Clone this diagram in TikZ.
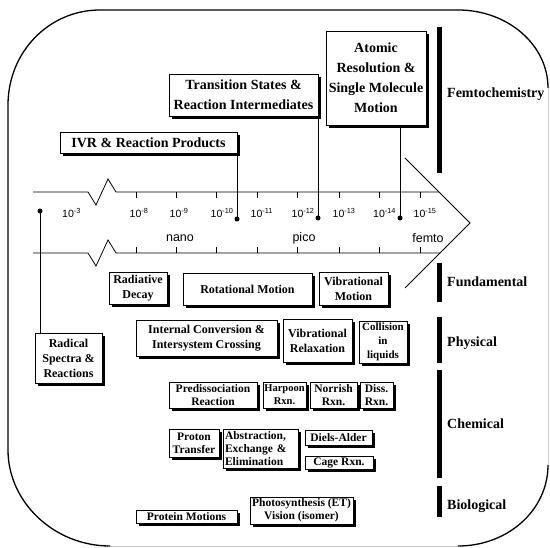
\documentclass[tikz,border=0pt]{standalone}
\usepackage{fontspec}
\setmainfont{Liberation Serif}
\newfontfamily\axisfont{Liberation Sans}
\usetikzlibrary{shadows}
\begin{document}
\begin{tikzpicture}[x=1pt,y=-1pt,
  bx/.style={draw, fill=white, line width=0.8pt, align=center, inner sep=1pt,
    drop shadow={shadow xshift=3pt,shadow yshift=-3pt,fill=black,opacity=1}},
  bigbox/.style={bx, font=\fontsize{14}{20}\selectfont\bfseries},
  midbox/.style={bx, font=\fontsize{12}{15}\selectfont\bfseries},
  smallbox/.style={bx, font=\fontsize{11.5}{13}\selectfont\bfseries},
  bar/.style={line width=5pt},
  cat/.style={anchor=west, inner sep=0pt, font=\fontsize{14}{16}\selectfont\bfseries},
  dot/.style={circle, fill=black, inner sep=0pt, minimum size=5pt},
  tk/.style={anchor=west, inner sep=0pt, font=\axisfont\fontsize{10.5}{12}\selectfont},
  scl/.style={inner sep=0pt, font=\axisfont\fontsize{12.5}{14}\selectfont},
  axis/.style={line width=0.8pt},
  border/.style={line width=1.3pt}
]
\useasboundingbox (0,0) rectangle (550,548);

% outer border
\draw[border] (8,450) -- (8,105) .. controls (8,52) and (49,10) .. (100,10) -- (458,10)
  .. controls (508,10) and (548,45) .. (548,88);
\draw[border] (548,465) .. controls (548,510) and (508,546) .. (458,546);
\draw[border] (8,450) .. controls (8,502) and (54,546) .. (110,546);
\draw[gray!45, line width=0.8pt] (110,546) -- (458,546);
\draw[gray!35, line width=0.6pt] (548,88) -- (548,465);

% time axis
\draw[axis] (33,192) -- (88,192) -- (96,205) -- (108,179) -- (116,192) -- (439,192);
\draw[axis] (33,253) -- (88,253) -- (96,266) -- (108,240) -- (116,253) -- (440,253);
\draw[axis] (405,158) -- (470,223) -- (405,288);
\foreach \x in {136,176,216,257,297,339,379,420} {
  \draw[axis] (\x,192) -- (\x,198);
  \draw[axis] (\x,253) -- (\x,247);
}
\node[tk] (e3) at (62,213) {10\textsuperscript{-3}};
\node[tk] (e8) at (129.5,213) {10\textsuperscript{-8}};
\node[tk] (e9) at (169.5,213) {10\textsuperscript{-9}};
\node[tk] (e10) at (210.5,213) {10\textsuperscript{-10}};
\node[tk] (e11) at (250.5,213) {10\textsuperscript{-11}};
\node[tk] (e12) at (291.5,213) {10\textsuperscript{-12}};
\node[tk] (e13) at (332.5,213) {10\textsuperscript{-13}};
\node[tk] (e14) at (373,213) {10\textsuperscript{-14}};
\node[tk] (e15) at (413.5,213) {10\textsuperscript{-15}};
\node[scl] (nano) at (180,238) {nano};
\node[scl] (pico) at (304,238) {pico};
\node[scl] (femto) at (428,238) {femto};

% category bars and labels
\draw[bar] (439,27) -- (439,173);
\draw[bar] (439,263) -- (439,302);
\draw[bar] (439,317) -- (439,363);
\draw[bar] (439,370) -- (439,478);
\draw[bar] (439,486) -- (439,517);
\node[cat] (fc) at (447,94) {Femtochemistry};
\node[cat] (fu) at (447,282) {Fundamental};
\node[cat] (ph) at (447,343) {Physical};
\node[cat] (ch) at (447,424) {Chemical};
\node[cat] (bi) at (447,506) {Biological};

% top boxes
\node[bigbox, minimum width=177pt, minimum height=21pt] (ivr) at (148.5,142.5) {IVR \& Reaction Products};
\node[bigbox, minimum width=149pt, minimum height=42pt] (trans) at (243.5,95) {Transition States \&\\Reaction Intermediates};
\node[bigbox, minimum width=100pt, minimum height=94pt] (atomic) at (376,78) {Atomic\\Resolution \&\\Single Molecule\\Motion};

% dots and connectors
\node[dot] (d0) at (40,211) {};
\node[dot] (d1) at (237,219) {};
\node[dot] (d2) at (318,218) {};
\node[dot] (d3) at (400,218) {};
\draw[axis] (d1 |- ivr.south) -- (d1.center);
\draw[axis] (d2 |- trans.south) -- (d2.center);
\draw[axis] (d3 |- atomic.south) -- (d3.center);

% fundamental / physical
\node[midbox, minimum width=58pt, minimum height=32pt] (rad) at (138,288) {Radiative\\Decay};
\node[midbox, minimum width=129pt, minimum height=32pt] (rot) at (247.5,289) {Rotational Motion};
\node[midbox, minimum width=69pt, minimum height=33pt] (vibm) at (353.5,288.5) {Vibrational\\Motion};
\node[midbox, minimum width=141pt, minimum height=36pt] (ic) at (206.5,338) {Internal Conversion \&\\Intersystem Crossing};
\node[midbox, minimum width=69pt, minimum height=43pt] (vibr) at (317.5,340.5) {Vibrational\\Relaxation};
\node[midbox, minimum width=48pt, minimum height=42pt, font=\fontsize{11}{14}\selectfont\bfseries] (coll) at (383,342) {Collision\\in\\liquids};
\node[midbox, minimum width=67pt, minimum height=50pt] (radical) at (68.5,358) {Radical\\Spectra \&\\Reactions};
\draw[axis] (d0.center) -- (d0 |- radical.north);

% chemical
\node[smallbox, minimum width=88pt, minimum height=26pt] (pre) at (213,395) {Predissociation\\Reaction};
\node[smallbox, minimum width=43pt, minimum height=26pt, inner xsep=0pt, font=\fontsize{10.5}{13}\selectfont\bfseries] (harp) at (284.5,395) {Harpoon\\Rxn.};
\node[smallbox, minimum width=47pt, minimum height=26pt] (nor) at (333.5,395) {Norrish\\Rxn.};
\node[smallbox, minimum width=33pt, minimum height=26pt] (diss) at (376.5,395) {Diss.\\Rxn.};
\node[smallbox, minimum width=50pt, minimum height=28pt] (prot) at (194,443) {Proton\\Transfer};
\node[smallbox, minimum height=39pt, text width=71pt, inner xsep=2pt, align=left] (abs) at (260.5,448.5) {Abstraction,\\Exchange \&\\Elimination};
\node[smallbox, minimum width=67pt, minimum height=15pt, inner ysep=0.5pt] (diels) at (338.5,437.5) {Diels-Alder};
\node[smallbox, minimum width=68pt, minimum height=13pt, inner ysep=0.5pt] (cage) at (339,462.5) {Cage Rxn.};

% biological
\node[smallbox, minimum width=101pt, minimum height=13pt, inner ysep=0.5pt] (prm) at (186.5,516.5) {Protein Motions};
\node[smallbox, minimum width=103pt, minimum height=27pt] (pho) at (301.5,510.5) {Photosynthesis (ET)\\Vision (isomer)};
\end{tikzpicture}
\end{document}
